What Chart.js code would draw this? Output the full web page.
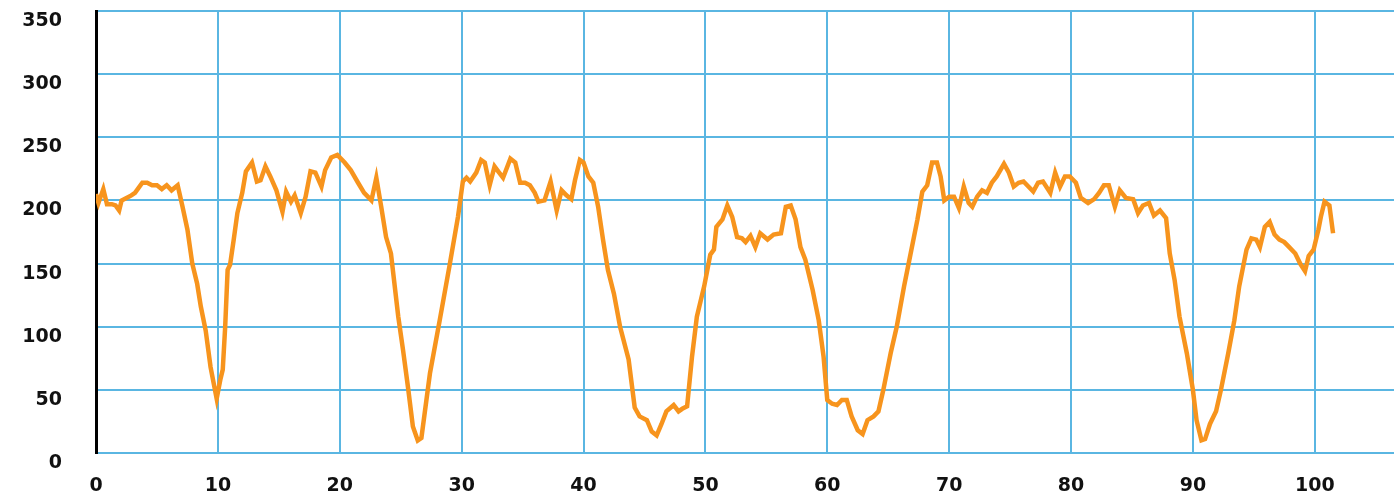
<!DOCTYPE html>
<html>
<head>
<meta charset="utf-8">
<script src="https://cdn.jsdelivr.net/npm/chart.js@4.4.1/dist/chart.umd.min.js"></script>
<style>
    html, body { margin: 0; padding: 0; background: #fff; }
    #wrap { width: 1394px; height: 492px; }
</style>
</head>
<body>
<div id="wrap"><canvas id="chart"></canvas></div>
<script>
// values
const xValues = [
    0.0, 0.2, 0.6, 0.9, 1.3, 1.6, 1.9, 2.1, 2.5, 2.9, 3.2, 3.8, 4.2, 4.6, 5.0, 5.4, 5.8, 6.2, 6.7, 7.1,
    7.5, 7.9, 8.3, 8.6, 9.0, 9.4, 9.9, 10.2, 10.4, 10.6, 10.8, 11.0, 11.3, 11.6, 12.0, 12.3, 12.8, 13.2, 13.5, 13.9,
    14.3, 14.8, 15.3, 15.6, 16.0, 16.3, 16.8, 17.2, 17.6, 18.0, 18.5, 18.8, 19.3, 19.8, 20.4, 20.9, 21.5, 22.0, 22.6, 23.0,
    23.4, 23.8, 24.2, 24.8, 25.2, 25.6, 26.0, 26.4, 26.7, 27.4, 28.2, 29.0, 29.7, 30.1, 30.4, 30.7, 31.2, 31.6, 31.9, 32.3,
    32.7, 33.0, 33.4, 34.0, 34.4, 34.8, 35.2, 35.6, 36.0, 36.3, 36.8, 37.3, 37.8, 38.2, 38.6, 39.0, 39.3, 39.7, 40.0, 40.4,
    40.8, 41.2, 41.6, 42.0, 42.5, 43.0, 43.7, 44.2, 44.6, 45.2, 45.6, 46.0, 46.4, 46.8, 47.4, 47.8, 48.1, 48.5, 48.9, 49.3,
    49.9, 50.4, 50.7, 50.9, 51.4, 51.8, 52.2, 52.6, 53.0, 53.3, 53.7, 54.1, 54.5, 55.1, 55.6, 56.2, 56.6, 57.0, 57.4, 57.8,
    58.2, 58.8, 59.3, 59.7, 60.0, 60.4, 60.8, 61.2, 61.6, 62.0, 62.5, 62.9, 63.3, 63.8, 64.2, 64.6, 65.2, 65.7, 66.3, 66.8,
    67.4, 67.8, 68.2, 68.6, 69.0, 69.3, 69.6, 70.0, 70.4, 70.8, 71.2, 71.6, 71.9, 72.3, 72.7, 73.1, 73.5, 73.9, 74.5, 74.9,
    75.3, 75.7, 76.1, 76.5, 76.9, 77.3, 77.7, 78.3, 78.7, 79.1, 79.5, 79.9, 80.4, 80.8, 81.4, 81.9, 82.3, 82.7, 83.1, 83.6,
    84.0, 84.5, 85.1, 85.5, 85.9, 86.4, 86.8, 87.3, 87.8, 88.1, 88.5, 88.9, 89.5, 90.0, 90.3, 90.7, 91.0, 91.4, 91.9, 92.3,
    92.9, 93.4, 93.8, 94.4, 94.8, 95.2, 95.5, 95.9, 96.3, 96.7, 97.1, 97.5, 97.9, 98.4, 98.8, 99.2, 99.5, 99.9, 100.3, 100.5,
    100.8, 101.2, 101.5
];
const yValues = [
    205, 198, 209, 197, 197, 196, 192, 200, 202, 204, 206, 214, 214, 212, 212, 209, 212, 208, 212, 195,
    177, 150, 134, 116, 97, 68, 43, 58, 66, 100, 145, 149, 169, 190, 206, 223, 230, 215, 216, 227,
    219, 208, 191, 207, 199, 204, 190, 203, 223, 222, 211, 224, 234, 236, 230, 224, 214, 206, 200, 218,
    195, 171, 158, 108, 81, 52, 21, 10, 12, 63, 105, 148, 187, 215, 218, 215, 222, 232, 230, 212,
    227, 223, 218, 233, 230, 214, 214, 212, 206, 199, 200, 215, 192, 208, 204, 201, 216, 232, 230, 219,
    214, 195, 169, 145, 126, 100, 74, 36, 29, 26, 17, 14, 23, 33, 38, 33, 35, 37, 76, 108,
    132, 157, 161, 179, 185, 196, 187, 171, 170, 167, 172, 163, 174, 169, 173, 174, 195, 196, 185, 163,
    153, 129, 105, 76, 42, 39, 38, 42, 42, 29, 18, 15, 26, 29, 33, 50, 79, 100, 132, 156,
    185, 207, 212, 230, 230, 219, 200, 203, 203, 194, 211, 198, 195, 203, 208, 206, 214, 219, 229, 222,
    211, 214, 215, 211, 207, 214, 215, 206, 222, 211, 219, 219, 214, 202, 198, 201, 206, 212, 212, 195,
    208, 202, 201, 190, 196, 198, 188, 192, 186, 158, 137, 108, 79, 50, 26, 10, 11, 23, 33, 50,
    79, 105, 132, 161, 170, 169, 163, 179, 183, 173, 169, 167, 163, 158, 150, 144, 156, 161, 177, 187,
    199, 196, 174
];

const xMin = 0, xMax = 106.5, xStep = 10;
const yMin = 0, yMax = 350, yStep = 50;

const points = xValues.map((x, i) => ({ x: x, y: yValues[i] }));

const gridBlue = '#5ab6e2';
const tickFont = { family: 'DejaVu Sans', size: 19, weight: 'bold' };

// drop the extra label padding Chart.js reserves, the frame is fixed
function noPad(scale) {
    scale.paddingTop = 0;
    scale.paddingBottom = 0;
    scale.paddingLeft = 0;
    scale.paddingRight = 0;
}

const ctx = document.getElementById('chart').getContext('2d');
new Chart(ctx, {
    type: 'line',
    data: {
        datasets: [{
            data: points,
            borderColor: '#f7941d',
            borderWidth: 4.5,
            pointRadius: 0,
            tension: 0,
            fill: false
        }]
    },
    options: {
        responsive: true,
        maintainAspectRatio: false,
        animation: false,
        layout: { padding: { top: 11, right: 0, left: 0, bottom: 0 } },
        plugins: {
            legend: { display: false },
            tooltip: { enabled: false }
        },
        scales: {
            x: {
                type: 'linear',
                min: xMin,
                max: xMax,
                ticks: {
                    stepSize: xStep,
                    includeBounds: false,
                    color: '#111',
                    font: tickFont,
                    padding: 22,
                    maxRotation: 0
                },
                grid: { color: gridBlue, lineWidth: 2, drawTicks: false },
                border: { display: false },
                afterFit: (scale) => { scale.height = 39; noPad(scale); }
            },
            y: {
                min: yMin,
                max: yMax,
                ticks: {
                    stepSize: yStep,
                    color: '#111',
                    font: tickFont,
                    padding: 34,
                    labelOffset: 10
                },
                grid: { color: gridBlue, lineWidth: 2, drawTicks: false },
                border: { display: true, color: '#000', width: 3 },
                afterFit: (scale) => { scale.width = 96; noPad(scale); }
            }
        }
    }
});
</script>
</body>
</html>
